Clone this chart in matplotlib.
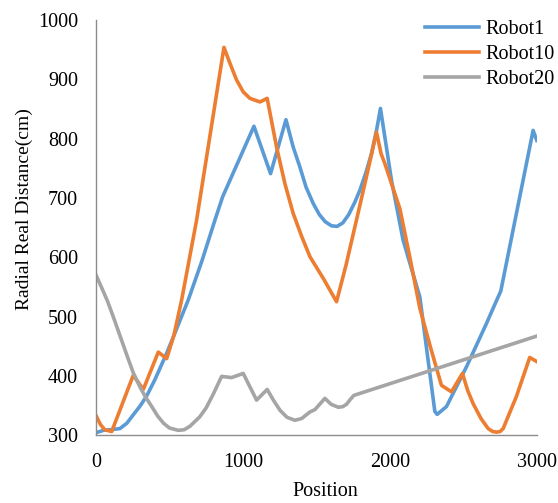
import matplotlib.pyplot as plt

# Robot1 radial distance along the path
robot1_x = [0, 50, 100, 163, 210, 250, 300, 345, 400, 481, 550, 628, 720, 810, 862,
            1075, 1188, 1293, 1342, 1388, 1430, 1478, 1520, 1560, 1603, 1640, 1680,
            1720, 1760, 1796, 1840, 1875, 1910, 1936, 2011, 2090, 2204, 2306, 2322,
            2385, 2450, 2521, 2590, 2657, 2710, 2755, 2975, 3000]
robot1_y = [304, 308, 309, 311, 320, 333, 349, 366, 393, 438, 480, 528, 593, 663, 702,
            821, 741, 832, 786, 752, 718, 691, 672, 660, 653, 652, 658,
            672, 692, 713, 745, 775, 815, 851, 730, 629, 533, 340, 335,
            348, 380, 415, 452, 488, 518, 543, 814, 797]

# Robot10
robot10_x = [0, 30, 60, 107, 254, 322, 424, 481, 530, 583, 630, 685, 871, 912, 957,
             1002, 1048, 1116, 1165, 1229, 1286, 1342, 1400, 1456, 1550, 1637, 1700,
             1773, 1840, 1909, 1940, 1966, 2010, 2068, 2140, 2204, 2280, 2351, 2419,
             2494, 2530, 2567, 2620, 2669, 2700, 2726, 2750, 2771, 2861, 2952, 3000]
robot10_y = [333, 318, 309, 306, 401, 377, 440, 429, 468, 528, 590, 663, 954, 927, 899,
             879, 868, 862, 868, 786, 724, 674, 635, 601, 563, 525, 585,
             663, 735, 811, 775, 758, 725, 682, 595, 514, 445, 384, 373,
             404, 375, 353, 328, 311, 306, 305, 306, 311, 365, 431, 424]

# Robot20
robot20_x = [0, 40, 80, 120, 160, 210, 254, 300, 333, 380, 420, 460, 500, 560, 600,
             640, 707, 750, 800, 855, 923, 1002, 1093, 1165, 1210, 1252, 1300, 1354,
             1400, 1456, 1490, 1558, 1600, 1649, 1680, 1705, 1730, 1755, 3000]
robot20_y = [570, 548, 525, 498, 470, 435, 405, 381, 366, 348, 332, 320, 312, 308, 309,
             315, 331, 346, 370, 399, 397, 404, 359, 377, 358, 342, 330, 325,
             328, 339, 343, 362, 352, 347, 348, 352, 360, 367, 467]

plt.rcParams['font.family'] = ['Liberation Serif', 'DejaVu Serif']

fig = plt.figure(figsize=(5.58, 5.03), dpi=100)
ax = fig.add_axes([0.172, 0.135, 0.790, 0.825])

lw = 2.6
ax.plot(robot1_x, robot1_y, color='#5B9BD5', lw=lw, label='Robot1', solid_joinstyle='round')
ax.plot(robot10_x, robot10_y, color='#ED7D31', lw=lw, label='Robot10', solid_joinstyle='round')
ax.plot(robot20_x, robot20_y, color='#A5A5A5', lw=lw, label='Robot20', solid_joinstyle='round')

ax.set_xlim(0, 3000)
ax.set_ylim(300, 1000)
ax.set_xticks([0, 1000, 2000, 3000])
ax.set_yticks(range(300, 1001, 100))
ax.tick_params(length=0, labelsize=14.5, colors='black')
ax.tick_params(axis='y', pad=13)
ax.tick_params(axis='x', pad=13)

for s in ['top', 'right']:
    ax.spines[s].set_visible(False)
for s in ['left', 'bottom']:
    ax.spines[s].set_color('#8c8c8c')
    ax.spines[s].set_linewidth(1.0)

ax.set_xlabel('Position', fontsize=14.5)
ax.xaxis.set_label_coords(0.52, -0.112)
ax.set_ylabel('Radial Real Distance(cm)', fontsize=14)
ax.yaxis.set_label_coords(-0.142, 0.545)

leg = ax.legend(loc='upper left', bbox_to_anchor=(425 / 558, 1 - 20 / 503),
                bbox_transform=fig.transFigure, frameon=False, fontsize=14.5,
                handlelength=2.7, handletextpad=0.3, labelspacing=0.3,
                borderpad=0, borderaxespad=0)

fig.savefig('out.png', dpi=100)
